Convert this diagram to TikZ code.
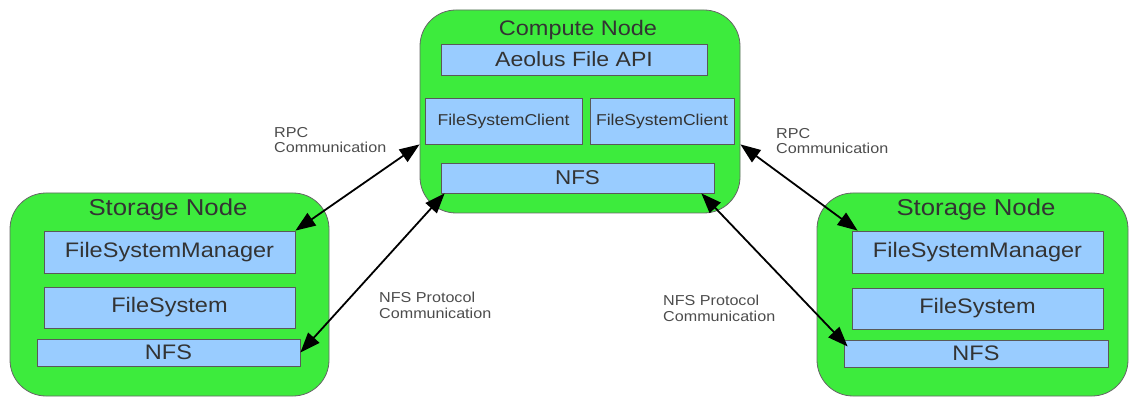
\documentclass[tikz,border=0pt]{standalone}
\usepackage{fontspec}
\setmainfont{Liberation Sans}[FakeStretch=1.12]
\usetikzlibrary{arrows.meta,calc}
\definecolor{hostgreen}{RGB}{61,235,61}
\definecolor{layerblue}{RGB}{153,204,255}
\definecolor{inktext}{RGB}{51,51,51}
\begin{document}
\begin{tikzpicture}[x=1pt,y=-1pt,
  hostbox/.style={draw=black!60, fill=hostgreen, rounded corners=36pt, line width=0.8pt, inner sep=0pt},
  layer/.style={draw=black!65, fill=layerblue, line width=0.8pt, inner sep=0pt, text=inktext},
  hosttitle/.style={text=inktext, inner sep=0pt},
  big/.style={font=\fontsize{21}{24}\selectfont},
  small/.style={font=\fontsize{15.7}{18}\selectfont},
  link/.style={{Triangle[length=20pt,width=15pt]}-{Triangle[length=20pt,width=15pt]}, line width=1.8pt, black},
  note/.style={text=black!70, font=\fontsize{14.4}{15.5}\selectfont, align=left, anchor=north west, inner sep=0pt}]
\useasboundingbox (0,0) rectangle (1130,398);

% hosts
\node[hostbox, minimum width=320pt, minimum height=203pt] (compute) at (580,111.5) {};
\node[hostbox, minimum width=319pt, minimum height=203pt] (storeL) at (169.5,294.5) {};
\node[hostbox, minimum width=311pt, minimum height=203pt] (storeR) at (972.5,294.5) {};

\node[hosttitle, font=\fontsize{21}{24}\selectfont] (ctitle) at (578,30.5) {Compute Node};
\node[hosttitle, font=\fontsize{23}{26}\selectfont] (ltitle) at (168,210) {Storage Node};
\node[hosttitle, font=\fontsize{23}{26}\selectfont] (rtitle) at (976,210) {Storage Node};

% compute node layers
\node[layer, font=\fontsize{20.6}{24}\selectfont, minimum width=266pt, minimum height=31pt] (api) at (574,59.5) {Aeolus File API};
\node[layer, small, minimum width=157pt, minimum height=46pt] (fsc1) at (503.5,121) {FileSystemClient};
\node[layer, small, minimum width=144pt, minimum height=46pt] (fsc2) at (662,121) {FileSystemClient};
\node[layer, font=\fontsize{20}{22}\selectfont, minimum width=273pt, minimum height=30pt] (nfsc) at (577.5,178) {NFS};

% left storage node layers
\node[layer, big, minimum width=251pt, minimum height=42pt] (fsm1) at (169.5,252) {FileSystemManager};
\node[layer, big, minimum width=251pt, minimum height=41pt] (fs1) at (169.5,307.5) {FileSystem};
\node[layer, big, minimum width=263pt, minimum height=27pt] (nfs1) at (168.5,352.5) {NFS};

% right storage node layers
\node[layer, big, minimum width=251pt, minimum height=42pt] (fsm2) at (977.5,252) {FileSystemManager};
\node[layer, big, minimum width=251pt, minimum height=41pt] (fs2) at (977.5,308.5) {FileSystem};
\node[layer, big, minimum width=264pt, minimum height=27pt] (nfs2) at (976,353.5) {NFS};

% communication links
\draw[link] (compute.west |- fsc1.south) -- (fsm1.north east);
\draw[link] (compute.east |- fsc2.south) -- ([xshift=6pt]fsm2.north west);
\draw[link] ([xshift=4pt]nfsc.south west) -- (nfs1.east);
\draw[link] ([xshift=-13pt]nfsc.south east) -- ([shift={(4,-7)}]nfs2.west);

% link labels
\node[note] (rpcL) at (274,127) {RPC\\Communication};
\node[note] (rpcR) at (776,128) {RPC\\Communication};
\node[note] (nfsL) at (379,292) {NFS Protocol\\Communication};
\node[note] (nfsR) at (663,295) {NFS Protocol\\Communication};
\end{tikzpicture}
\end{document}
